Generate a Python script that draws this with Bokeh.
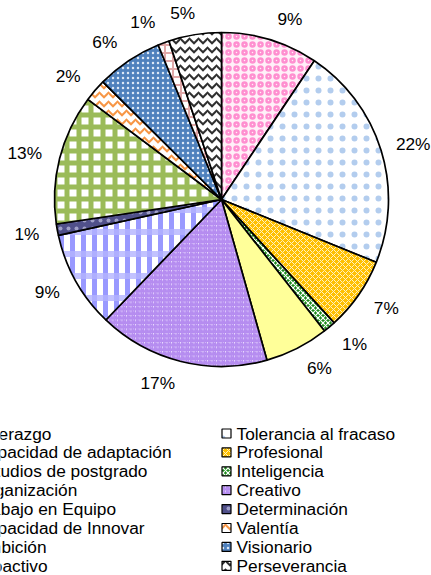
import math
from bokeh.plotting import figure
from bokeh.models import Range1d
from bokeh.embed import file_html
from bokeh.resources import INLINE
from bokeh.core.properties import value

# ---- data (clockwise from 12 o'clock, legend order row by row) ----
categories = ["Liderazgo", "Tolerancia al fracaso", "Capacidad de adaptación", "Profesional",
              "Estudios de postgrado", "Inteligencia", "Organización", "Creativo",
              "Trabajo en Equipo", "Determinación", "Capacidad de Innovar", "Valentía",
              "Ambición", "Visionario", "Proactivo", "Perseverancia"]
shares = [9.4, 21.8, 0.0, 7.1, 0.0, 1.2, 6.2, 16.6, 9.4, 1.1, 12.6, 2.2, 0.0, 6.4, 1.1, 5.1]

# ---- styles ----
FONT = "Liberation Sans"
FS = 17.3
styles = [
    dict(fill_color="#fff0f8", hatch_pattern="ring", hatch_color="#ff8fd0", hatch_scale=8, hatch_weight=2.5),
    dict(fill_color="#ffffff", hatch_pattern="dot", hatch_color="#b3cdee", hatch_scale=12, hatch_weight=1),
    dict(fill_color="#ffffff"),
    dict(fill_color="#ffc000", hatch_pattern="diagonal_cross", hatch_color="#fff2c0", hatch_scale=6, hatch_weight=1),
    dict(fill_color="#ffffff"),
    dict(fill_color="#1e8c1e", hatch_pattern="diagonal_cross", hatch_color="#ffffff", hatch_scale=5, hatch_weight=1.2),
    dict(fill_color="#ffff99"),
    dict(fill_color="#ece0ff", hatch_pattern="right_diagonal_line", hatch_color="#b58cf0", hatch_scale=4.5, hatch_weight=2),
    dict(fill_color="#ffffff", hatch_pattern="vertical_line", hatch_color="#9999ff", hatch_scale=11, hatch_weight=5),
    dict(fill_color="#50508a", hatch_pattern="dot", hatch_color="#a0a0c8", hatch_scale=8, hatch_weight=1),
    dict(fill_color="#ffffff", hatch_pattern="cross", hatch_color="#9bbb59", hatch_scale=12, hatch_weight=5),
    dict(fill_color="#ffffff", hatch_pattern="horizontal_wave", hatch_color="#f79646", hatch_scale=9, hatch_weight=2),
    dict(fill_color="#ffffff"),
    dict(fill_color="#4f81bd", hatch_pattern="dot", hatch_color="#dde8f6", hatch_scale=5, hatch_weight=1),
    dict(fill_color="#ffffff", hatch_pattern="cross", hatch_color="#e0a8a8", hatch_scale=8, hatch_weight=2),
    dict(fill_color="#ffffff", hatch_pattern="horizontal_wave", hatch_color="#303030", hatch_scale=9, hatch_weight=2),
]
# extra overlay (horizontal bands) for the plaid of "Trabajo en Equipo"
overlay = {8: dict(fill_color=None, hatch_pattern="horizontal_line", hatch_color="#b3b3ff",
                   hatch_scale=22, hatch_weight=6, hatch_alpha=0.8)}

W, H = 431, 575
p = figure(width=W, height=H, output_backend="svg", toolbar_location=None,
           x_range=Range1d(0, W), y_range=Range1d(0, H), min_border=0)
p.axis.visible = False
p.grid.visible = False
p.outline_line_color = None
p.background_fill_color = "#ffffff"


def py(page_y):
    return H - page_y


CX, CY, R = 221, py(199), 167
R_ANCHOR = R + 15
total = sum(shares)
cum = 0.0
for i, (v, st) in enumerate(zip(shares, styles)):
    a0 = cum / total * 2 * math.pi
    cum += v
    a1 = cum / total * 2 * math.pi
    if v <= 0:
        continue
    sa, ea = math.pi / 2 - a0, math.pi / 2 - a1
    p.wedge(x=[CX], y=[CY], radius=R, start_angle=sa, end_angle=ea,
            direction="clock", line_color=None, **st)
    if i in overlay:
        p.wedge(x=[CX], y=[CY], radius=R, start_angle=sa, end_angle=ea,
                direction="clock", line_color=None, **overlay[i])
    p.wedge(x=[CX], y=[CY], radius=R, start_angle=sa, end_angle=ea,
            direction="clock", fill_color=None, line_color="#000000", line_width=1.7)
    txt = f"{round(v / total * 100)}%"
    mid = (a0 + a1) / 2
    dx, dy = math.sin(mid), math.cos(mid)
    w = sum(0.889 * FS if c == "%" else 0.556 * FS for c in txt)
    ax, ay = CX + R_ANCHOR * dx, CY + R_ANCHOR * dy
    hx = max(-1.0, min(1.0, dx * 4)) * (w / 2 + 3)
    lx = min(ax + hx, W - w / 2 - 1)
    p.text(x=[lx], y=[ay + dy * 7], text=[txt], text_font=value(FONT),
           text_font_size=f"{FS}px", text_align="center", text_baseline="middle", text_color="#000000")

# ---- legend (two columns, row by row) ----
ROW0, DROW = 433, 18.9
for i, (name, st) in enumerate(zip(categories, styles)):
    col, row = i % 2, i // 2
    tx = -25 if col == 0 else 236
    ty = py(ROW0 + row * DROW)
    p.rect(x=[tx - 10], y=[ty], width=9, height=9, line_color="#000000", line_width=1.2, **st)
    p.text(x=[tx], y=[ty], text=[name], text_font=value(FONT), text_font_size=f"{FS}px",
           text_align="left", text_baseline="middle", text_color="#000000")

open("out.html", "w").write(file_html(p, INLINE))
